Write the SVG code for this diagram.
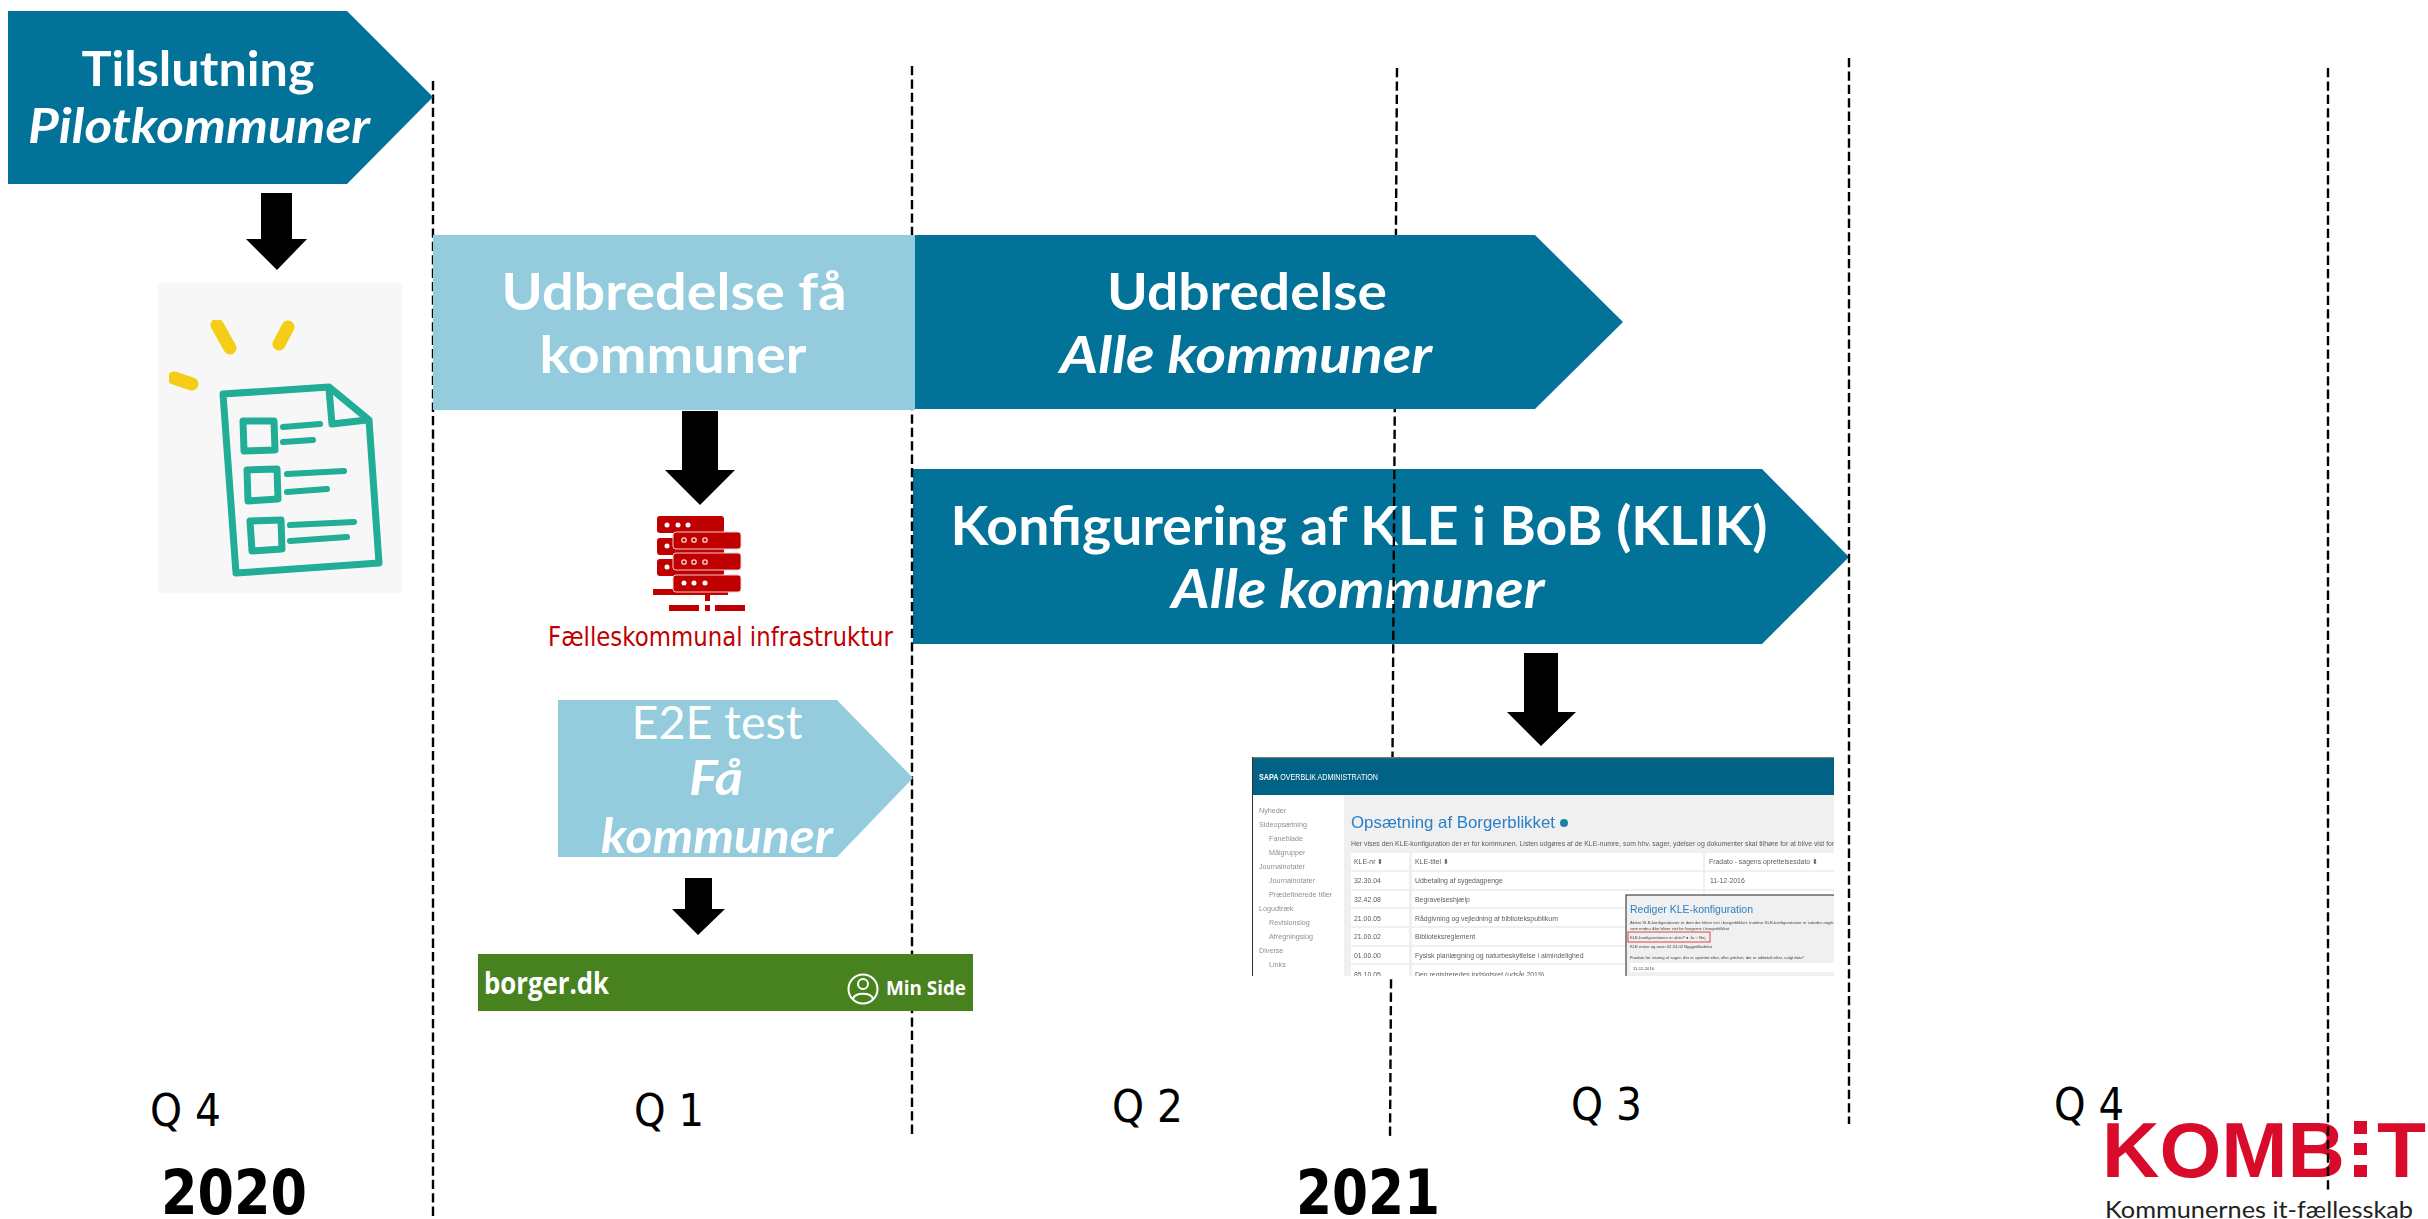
<svg xmlns="http://www.w3.org/2000/svg" width="2428" height="1219" viewBox="0 0 2428 1219">
<style>
text{font-family:"DejaVu Sans","Liberation Sans",sans-serif}
.dash{stroke:#000;stroke-width:2.4;stroke-dasharray:9.3 4.1;fill:none}
.dark{fill:#027299}.light{fill:#94ccde}
.w{fill:#fff;text-anchor:middle;font-family:Lato,"Open Sans",sans-serif;font-weight:700}
.wl{fill:#fff;text-anchor:middle;font-family:Lato,"Open Sans",sans-serif;font-weight:400}
.i{font-style:italic}
.q{fill:#000;font-size:44px}
.y{fill:#000;font-size:62px;font-weight:700}
.ink{fill:#000}
.teal{fill:none;stroke:#21ad96;stroke-width:7;stroke-linejoin:round;stroke-linecap:round}
.tealb{fill:none;stroke:#21ad96;stroke-width:6;stroke-linejoin:round;stroke-linecap:round}
.spark{fill:none;stroke:#f5cc17;stroke-width:13;stroke-linecap:round}
.srv{fill:#c00000}.srvf{fill:#c00000;stroke:#f0caca;stroke-width:1}
.dot{fill:#fff}.ring{fill:none;stroke:#f3d6d6;stroke-width:1.3}
.nav{font-size:7.2px;fill:#8f8f8f;font-family:"Liberation Sans",sans-serif}
.cell{font-size:6.9px;fill:#5c5c5c;font-family:"Liberation Sans",sans-serif}
.tiny{font-size:4.2px;fill:#444;font-family:"Liberation Sans",sans-serif}
.row{fill:#fff}
.blue{fill:#2a80c8;font-family:"Liberation Sans",sans-serif}
.bd{font-family:"Open Sans","Noto Sans",sans-serif;font-weight:700;fill:#fff}
</style>
<defs>
<clipPath id="shotClip"><rect x="1252" y="757" width="582" height="219"/></clipPath>
<filter id="soft" x="-2%" y="-2%" width="104%" height="104%"><feGaussianBlur stdDeviation="0.4"/></filter>
<filter id="softer" x="-2%" y="-2%" width="104%" height="104%"><feGaussianBlur stdDeviation="0.7"/></filter>
</defs>

<g id="kombit-logo">
<text x="2102" y="1177" font-size="77" font-weight="700" textLength="243" lengthAdjust="spacingAndGlyphs" style="font-family:'Liberation Sans',sans-serif" fill="#d80b2a">KOMB</text>
<rect x="2354" y="1121" width="13" height="13" fill="#d80b2a"/><rect x="2354" y="1143" width="13" height="12" fill="#d80b2a"/><rect x="2354" y="1165" width="13" height="12" fill="#d80b2a"/>
<text x="2377" y="1177" font-size="77" font-weight="700" textLength="49" lengthAdjust="spacingAndGlyphs" style="font-family:'Liberation Sans',sans-serif" fill="#d80b2a">T</text>
<text x="2105" y="1218" font-size="24" textLength="308" lengthAdjust="spacingAndGlyphs" style="font-family:Lato,sans-serif;font-weight:400" fill="#222">Kommunernes it-fællesskab</text>
</g>

<g id="konfigurering">
<polygon class="dark" points="913,469 1762,469 1849,557 1762,644 913,644"/>
<text class="w" x="1359" y="545" font-size="53" textLength="817" lengthAdjust="spacingAndGlyphs">Konfigurering af KLE i BoB (KLIK)</text>
<text class="w i" x="1358" y="608" font-size="53" textLength="373" lengthAdjust="spacingAndGlyphs">Alle kommuner</text>
</g>

<g id="timeline-dividers">
<path class="dash" d="M433 81V1219"/>
<path class="dash" d="M912 66V1135"/>
<path class="dash" d="M1397 68L1390 1138"/>
<path class="dash" d="M1849 58V1124"/>
<path class="dash" d="M2328 68V1190"/>
</g>

<g id="quarters">
<text class="q" x="150" y="1126" textLength="71" lengthAdjust="spacingAndGlyphs">Q 4</text>
<text class="q" x="634" y="1126" textLength="70" lengthAdjust="spacingAndGlyphs">Q 1</text>
<text class="q" x="1112" y="1122" textLength="71" lengthAdjust="spacingAndGlyphs">Q 2</text>
<text class="q" x="1571" y="1120" textLength="71" lengthAdjust="spacingAndGlyphs">Q 3</text>
<text class="q" x="2054" y="1120" textLength="70" lengthAdjust="spacingAndGlyphs">Q 4</text>
<text class="y" x="161" y="1214" textLength="146" lengthAdjust="spacingAndGlyphs">2020</text>
<text class="y" x="1296" y="1214" textLength="144" lengthAdjust="spacingAndGlyphs">2021</text>
</g>

<g id="tilslutning">
<polygon class="dark" points="8,11 347,11 433,97 347,184 8,184"/>
<text class="w" x="198" y="86" font-size="47" textLength="233" lengthAdjust="spacingAndGlyphs">Tilslutning</text>
<text class="w i" x="199" y="143" font-size="48" textLength="342" lengthAdjust="spacingAndGlyphs">Pilotkommuner</text>
</g>

<g id="udbredelse-faa">
<rect class="light" x="433" y="235" width="482" height="175"/>
<text class="w" x="674" y="310" font-size="52" textLength="345" lengthAdjust="spacingAndGlyphs">Udbredelse få</text>
<text class="w" x="673" y="373" font-size="52" textLength="267" lengthAdjust="spacingAndGlyphs">kommuner</text>
</g>

<g id="udbredelse-alle">
<polygon class="dark" points="915,235 1535,235 1623,322 1535,409 915,409"/>
<text class="w" x="1247" y="310" font-size="52" textLength="280" lengthAdjust="spacingAndGlyphs">Udbredelse</text>
<text class="w i" x="1246" y="373" font-size="52" textLength="372" lengthAdjust="spacingAndGlyphs">Alle kommuner</text>
</g>

<g id="e2e-test">
<polygon class="light" points="558,700 837,700 913,778 837,857 558,857"/>
<text class="wl" x="717" y="739" font-size="47" textLength="171" lengthAdjust="spacingAndGlyphs">E2E test</text>
<text class="w i" x="716" y="795" font-size="48" textLength="54" lengthAdjust="spacingAndGlyphs">Få</text>
<text class="w i" x="717" y="853" font-size="48" textLength="232" lengthAdjust="spacingAndGlyphs">kommuner</text>
</g>

<g id="connectors">
<polygon class="ink" points="261,193 292,193 292,239 307,239 277,270 246,239 261,239"/>
<polygon class="ink" points="682,411 718,411 718,470 735,470 700,505 665,470 682,470"/>
<polygon class="ink" points="685,878 712,878 712,909 725,909 698,935 672,909 685,909"/>
<polygon class="ink" points="1524,653 1558,653 1558,712 1576,712 1541,746 1507,712 1524,712"/>
</g>

<g id="checklist-icon">
<rect x="158" y="283" width="244" height="310" fill="#f7f7f7"/>
<g filter="url(#softer)">
<path class="spark" d="M217 325L230 348M288 327L279 344M174 378L192 384"/>
<path class="teal" d="M223 394L329 387L369 420L379 563L236 573Z"/>
<path class="teal" d="M329 389L332 424L367 420"/>
<path class="teal" d="M243 421L274 421L275 450L244 451ZM247 470L277 469L278 499L248 501ZM250 521L281 520L282 549L252 551Z"/>
<path class="tealb" d="M283 427L320 424M283 442L313 440M287 474L344 471M287 492L327 489M290 525L354 522M290 541L347 537"/>
</g>
</g>

<g id="infrastruktur">
<rect class="srv" x="653" y="589" width="75" height="6"/>
<rect class="srv" x="705" y="595" width="5" height="6"/>
<rect class="srv" x="669" y="605" width="30" height="6"/><rect class="srv" x="705" y="605" width="5" height="6"/><rect class="srv" x="715" y="605" width="30" height="6"/>
<rect class="srv" x="657" y="516" width="67" height="17" rx="3"/>
<rect class="srv" x="657" y="538" width="67" height="17" rx="3"/>
<rect class="srv" x="657" y="559" width="67" height="17" rx="3"/>
<circle class="dot" cx="667" cy="525" r="2.5"/><circle class="dot" cx="678" cy="525" r="2.5"/><circle class="dot" cx="688" cy="525" r="2.5"/>
<circle class="dot" cx="667" cy="546" r="2.5"/><circle class="dot" cx="667" cy="567" r="2.5"/>
<rect class="srvf" x="673" y="532" width="68" height="17" rx="3"/>
<rect class="srvf" x="673" y="553" width="68" height="17" rx="3"/>
<rect class="srvf" x="673" y="575" width="68" height="17" rx="3"/>
<circle class="ring" cx="684" cy="540" r="2.2"/><circle class="ring" cx="694" cy="540" r="2.2"/><circle class="ring" cx="705" cy="540" r="2.2"/>
<circle class="ring" cx="684" cy="562" r="2.2"/><circle class="ring" cx="694" cy="562" r="2.2"/><circle class="ring" cx="705" cy="562" r="2.2"/>
<circle class="dot" cx="684" cy="583" r="2.5"/><circle class="dot" cx="694" cy="583" r="2.5"/><circle class="dot" cx="705" cy="583" r="2.5"/>
<text x="548" y="646" font-size="26.5" fill="#c00000" textLength="345" lengthAdjust="spacingAndGlyphs">Fælleskommunal infrastruktur</text>
</g>

<g id="borger-banner">
<rect x="478" y="954" width="495" height="57" fill="#47821f"/>
<text class="bd" x="484" y="994" font-size="31" textLength="125" lengthAdjust="spacingAndGlyphs">borger.dk</text>
<circle cx="863" cy="989" r="14.5" fill="none" stroke="#fff" stroke-width="2"/>
<circle cx="863" cy="984" r="5" fill="none" stroke="#fff" stroke-width="2"/>
<path d="M853 999C855 992 871 992 873 999" fill="none" stroke="#fff" stroke-width="2"/>
<text class="bd" x="886" y="995" font-size="20" textLength="80" lengthAdjust="spacingAndGlyphs">Min Side</text>
</g>

<g id="admin-screenshot" clip-path="url(#shotClip)">
<g filter="url(#soft)">
<rect x="1252" y="757" width="582" height="219" fill="#f0f0f0"/>
<rect x="1252" y="795" width="92" height="181" fill="#fff"/>
<rect x="1252" y="758" width="582" height="37" fill="#066485"/>
<rect x="1252" y="757" width="582" height="1.2" fill="#777"/>
<rect x="1252" y="757" width="1" height="219" fill="#333"/>
<text x="1259" y="780" font-size="8.2" fill="#fff" textLength="119" lengthAdjust="spacingAndGlyphs" style="font-family:'Liberation Sans',sans-serif"><tspan font-weight="700">SAPA</tspan> OVERBLIK ADMINISTRATION</text>
<text class="nav" x="1259" y="813">Nyheder</text>
<text class="nav" x="1259" y="827">Sideopsætning</text>
<text class="nav" x="1269" y="841">Faneblade</text>
<text class="nav" x="1269" y="855">Målgrupper</text>
<text class="nav" x="1259" y="869">Journalnotater</text>
<text class="nav" x="1269" y="883">Journalnotater</text>
<text class="nav" x="1269" y="897">Prædefinerede titler</text>
<text class="nav" x="1259" y="911">Logudtræk</text>
<text class="nav" x="1269" y="925">Revisionslog</text>
<text class="nav" x="1269" y="939">Afregningslog</text>
<text class="nav" x="1259" y="953">Diverse</text>
<text class="nav" x="1269" y="967">Links</text>
<text class="blue" x="1351" y="828" font-size="16.5" textLength="204" lengthAdjust="spacingAndGlyphs">Opsætning af Borgerblikket</text>
<circle cx="1564" cy="823" r="4" fill="#1f7fa8"/>
<text class="cell" x="1351" y="846">Her vises den KLE-konfiguration der er for kommunen. Listen udgøres af de KLE-numre, som hhv. sager, ydelser og dokumenter skal tilhøre for at blive vist for borgerne</text>
<rect class="row" x="1351" y="853" width="58" height="17"/><rect class="row" x="1412" y="853" width="291" height="17"/><rect class="row" x="1705" y="853" width="129" height="17"/>
<rect class="row" x="1351" y="872" width="58" height="17"/><rect class="row" x="1412" y="872" width="291" height="17"/><rect class="row" x="1705" y="872" width="129" height="17"/>
<rect class="row" x="1351" y="891" width="58" height="16"/><rect class="row" x="1412" y="891" width="291" height="16"/><rect class="row" x="1705" y="891" width="129" height="16"/>
<rect class="row" x="1351" y="909" width="58" height="17"/><rect class="row" x="1412" y="909" width="291" height="17"/><rect class="row" x="1705" y="909" width="129" height="17"/>
<rect class="row" x="1351" y="928" width="58" height="17"/><rect class="row" x="1412" y="928" width="291" height="17"/><rect class="row" x="1705" y="928" width="129" height="17"/>
<rect class="row" x="1351" y="947" width="58" height="16"/><rect class="row" x="1412" y="947" width="291" height="16"/><rect class="row" x="1705" y="947" width="129" height="16"/>
<rect class="row" x="1351" y="965" width="58" height="11"/><rect class="row" x="1412" y="965" width="291" height="11"/><rect class="row" x="1705" y="965" width="129" height="11"/>
<text class="cell" x="1354" y="864">KLE-nr ⬍</text><text class="cell" x="1415" y="864">KLE-titel ⬍</text><text class="cell" x="1709" y="864">Fradato - sagens oprettelsesdato ⬍</text>
<text class="cell" x="1354" y="883">32.30.04</text><text class="cell" x="1415" y="883">Udbetaling af sygedagpenge</text><text class="cell" x="1710" y="883">11-12-2016</text>
<text class="cell" x="1354" y="902">32.42.08</text><text class="cell" x="1415" y="902">Begravelseshjælp</text>
<text class="cell" x="1354" y="921">21.00.05</text><text class="cell" x="1415" y="921">Rådgivning og vejledning af bibliotekspublikum</text>
<text class="cell" x="1354" y="939">21.00.02</text><text class="cell" x="1415" y="939">Biblioteksreglement</text>
<text class="cell" x="1354" y="958">01.00.00</text><text class="cell" x="1415" y="958">Fysisk planlægning og naturbeskyttelse i almindelighed</text>
<text class="cell" x="1354" y="977">85.10.05</text><text class="cell" x="1415" y="977">Den registreredes indsigtsret (udsår 2019)</text>
<rect x="1626" y="895" width="212" height="85" fill="#f0f0f0" stroke="#444" stroke-width="1.2"/>
<text class="blue" x="1630" y="913" font-size="10.5" textLength="123" lengthAdjust="spacingAndGlyphs">Rediger KLE-konfiguration</text>
<text class="tiny" x="1630" y="924">Aktive KLE-konfigurationer er dem der bliver vist i borgerblikket. Inaktive KLE-konfigurationer er således nogle der</text>
<text class="tiny" x="1630" y="930">som endnu ikke bliver vist for borgerne i borgerblikket</text>
<rect x="1628" y="932" width="82" height="10" fill="none" stroke="#e04040" stroke-width="1"/>
<text class="tiny" x="1630" y="939">KLE-konfigurationen er aktiv? ● Ja ○ Nej</text>
<text class="tiny" x="1630" y="948">KLE emne og navn 02.34.02 Byggetilladelse</text>
<text class="tiny" x="1630" y="959">Fradato for visning af sager, der er oprettet efter, eller ydelser, der er udbetalt efter, valgt dato*</text>
<rect x="1630" y="963" width="204" height="9" fill="#fff"/>
<text class="tiny" x="1633" y="970">11-12-2016</text>
</g>
</g>
</svg>
